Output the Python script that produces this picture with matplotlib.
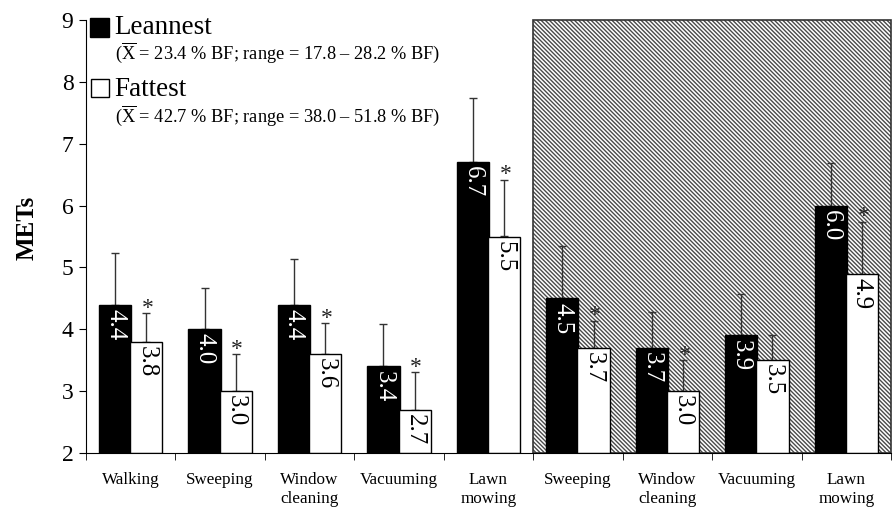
import numpy as np
import matplotlib
matplotlib.use("Agg")
import matplotlib.pyplot as plt
from matplotlib.patches import Rectangle

plt.rcParams["font.family"] = ["Liberation Serif", "DejaVu Serif"]
plt.rcParams["mathtext.fontset"] = "custom"
plt.rcParams["mathtext.rm"] = "Liberation Serif"
plt.rcParams["hatch.linewidth"] = 1.0

# Activities (first five: one setting, last four: shaded setting)
activities = ["Walking", "Sweeping", "Window\ncleaning", "Vacuuming", "Lawn\nmowing",
              "Sweeping", "Window\ncleaning", "Vacuuming", "Lawn\nmowing"]

# Mean METs
leanest = [4.4, 4.0, 4.4, 3.4, 6.7, 4.5, 3.7, 3.9, 6.0]
fattest = [3.8, 3.0, 3.6, 2.7, 5.5, 3.7, 3.0, 3.5, 4.9]

# Standard deviations (upper bars only)
leanest_sd = [0.83, 0.66, 0.74, 0.68, 1.04, 0.85, 0.58, 0.67, 0.69]
fattest_sd = [0.46, 0.60, 0.50, 0.61, 0.92, 0.44, 0.50, 0.41, 0.84]

# Significant difference between groups
significant = [True, True, True, True, True, True, True, False, True]

x = np.arange(len(activities))
width = 0.36
off = 0.175

fig = plt.figure(figsize=(8.93, 5.08), dpi=100)
ax = fig.add_axes([86 / 893, 1 - 453 / 508, (891 - 86) / 893, (453 - 20) / 508])

ax.set_xlim(-0.5, 8.5)
ax.set_ylim(2, 9)

# shaded panel behind the last four activities
ax.add_patch(Rectangle((4.5, 2), 4.0, 7, facecolor="white", edgecolor="#4a4a4a",
                       hatch="\\" * 8, linewidth=0, zorder=0.5))
ax.add_patch(Rectangle((4.5, 2), 4.0, 7, facecolor="none", edgecolor="#333333",
                       linewidth=1.2, zorder=0.6, clip_on=False))

ax.errorbar(x - off, leanest, yerr=[np.zeros(len(x)), leanest_sd], fmt="none",
            ecolor="#333333", elinewidth=1, capsize=3, capthick=1, zorder=1.5)
ax.errorbar(x + off, fattest, yerr=[np.zeros(len(x)), fattest_sd], fmt="none",
            ecolor="#333333", elinewidth=1, capsize=3, capthick=1, zorder=1.5)

ax.bar(x - off, np.array(leanest) - 2, width, bottom=2, color="black",
       edgecolor="black", linewidth=1, zorder=2)
ax.bar(x + off, np.array(fattest) - 2, width, bottom=2, color="white",
       edgecolor="black", linewidth=1, zorder=2.1)

for xi, v in zip(x - off, leanest):
    ax.annotate(f"{v:.1f}", (xi, v), xytext=(0, -3), textcoords="offset points",
                rotation=270, ha="center", va="top", color="white", fontsize=18, zorder=3)
for xi, v in zip(x + off, fattest):
    ax.annotate(f"{v:.1f}", (xi, v), xytext=(0, -3), textcoords="offset points",
                rotation=270, ha="center", va="top", color="black", fontsize=18, zorder=3)

for xi, v, sd, sig in zip(x + off, fattest, fattest_sd, significant):
    if sig:
        ax.annotate("*", (xi, v + sd), xytext=(1, -4), textcoords="offset points",
                    ha="center", va="bottom", fontsize=17, color="#222222", zorder=3)

ax.spines["top"].set_visible(False)
ax.spines["right"].set_visible(False)

ax.set_yticks(range(2, 10))
ax.tick_params(axis="y", labelsize=17, length=5, pad=4)
ax.set_xticks(x)
ax.set_xticklabels(activities, fontsize=12.3, linespacing=1.25)
ax.set_xticks(np.arange(-0.5, 8.6, 1), minor=True)
ax.tick_params(axis="x", which="major", length=0, pad=14)
ax.tick_params(axis="x", which="minor", length=5)

ax.set_ylabel("METs", fontsize=18, fontweight="bold")
ax.yaxis.set_label_coords((39 - 86) / 805, (453 - 228) / 433)

# legend drawn as filled / open squares with descriptive text
fig.patches.append(Rectangle((90 / 893, 1 - 37 / 508), 19 / 893, 19 / 508,
                             transform=fig.transFigure, facecolor="black",
                             edgecolor="black", linewidth=1))
fig.patches.append(Rectangle((90.5 / 893, 1 - 97 / 508), 18 / 893, 18 / 508,
                             transform=fig.transFigure, facecolor="white",
                             edgecolor="black", linewidth=1))
fig.text(114 / 893, 1 - 34 / 508, "Leannest", fontsize=19.5, va="baseline", ha="left")
fig.text(114 / 893, 1 - 96 / 508, "Fattest", fontsize=19.5, va="baseline", ha="left")
fig.text(115 / 893, 1 - 40 / 508,
         r"($\overline{\mathrm{X}}$ = 23.4 % BF; range = 17.8 – 28.2 % BF)",
         fontsize=13.2, va="top", ha="left")
fig.text(115 / 893, 1 - 103 / 508,
         r"($\overline{\mathrm{X}}$ = 42.7 % BF; range = 38.0 – 51.8 % BF)",
         fontsize=13.2, va="top", ha="left")

fig.savefig("out.png", dpi=100)
